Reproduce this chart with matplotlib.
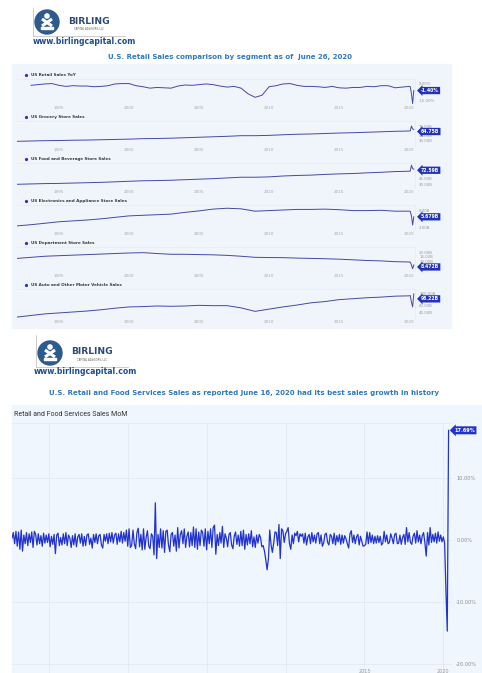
import numpy as np
import matplotlib
matplotlib.use('Agg')
import matplotlib.pyplot as plt
from matplotlib.patches import Rectangle, Circle
from matplotlib.transforms import blended_transform_factory

W, H = 482, 673

# ---------------- data ----------------
years = list(range(1992, 2020))
months_2020 = [2020.0, 2020.083, 2020.167, 2020.25, 2020.333]

# US Retail Sales YoY, semi-annual 1993-2019 (%)
yoy_dates = [1993 + i * 0.5 for i in range(54)]
yoy_pct = [6.0, 7.0, 8.0, 8.5, 6.0, 4.5, 5.5, 5.0, 5.0, 4.0,
           4.5, 5.5, 8.0, 8.5, 8.5, 5.5, 4.0, 2.0, 3.0, 2.5,
           2.0, 5.0, 6.5, 6.0, 7.0, 8.0, 7.0, 5.0, 3.5, 4.5,
           2.0, -6.0, -11.0, -8.0, 4.0, 5.5, 8.0, 8.5, 6.0, 4.5,
           4.5, 4.0, 3.0, 4.5, 2.5, 2.0, 3.0, 3.0, 4.5, 4.0,
           5.5, 5.5, 2.5, 3.5]
yoy_2020 = [4.5, 4.0, -6.0, -19.9, -1.4]

# monthly sales, $B (annual level 1992-2019, then Jan-May 2020)
grocery = [27, 28, 29, 29.5, 30.5, 31, 32, 33, 34, 35.5, 36, 37, 38.5, 40,
           41.5, 43, 45, 45, 46, 48, 49.5, 50.5, 52, 53.5, 54.5, 56, 57.5, 59]
grocery_2020 = [60, 60.5, 76, 67, 64.75]

food_bev = [30, 31, 32, 32.5, 33.5, 34.5, 35.5, 37, 38.5, 40, 40.5, 41.5, 43, 44.5,
            46, 48, 50, 50, 51, 53.5, 55, 56, 58, 59.5, 60.5, 62.5, 64, 66]
food_bev_2020 = [67, 67.5, 84, 75, 72.59]

electronics = [2.6, 3.0, 3.5, 4.0, 4.3, 4.6, 5.0, 5.5, 6.0, 6.2, 6.4, 6.6, 7.2, 7.7,
               8.3, 8.6, 8.4, 7.6, 7.8, 8.0, 8.2, 8.2, 8.3, 8.1, 7.8, 7.8, 7.9, 7.6]
electronics_2020 = [7.6, 7.5, 6.0, 2.9, 5.679]

department = [14.5, 15.5, 16.5, 17, 17.5, 18, 18.5, 19, 19.5, 19.8, 19.0, 18.3, 18.3, 18.0,
              17.8, 17.3, 16.5, 15.5, 15.3, 15.2, 14.8, 14.5, 14.2, 13.8, 13.2, 12.6, 12.2, 11.5]
department_2020 = [11.2, 11.0, 8.5, 5.0, 8.472]

auto = [25, 30, 35, 38, 41, 44, 48, 53, 57, 58, 60, 59, 60, 62,
        61, 61, 54, 43, 50, 57, 63, 70, 74, 80, 83, 86, 88, 91]
auto_2020 = [92, 93, 72, 57, 98.22]

# Retail and Food Services Sales MoM (%), monthly from Sep 1992 to May 2020
mom_start = 1992 + 8 / 12
mom_pct = [
    0.3, 1.2, -0.6, 1.4,                                              # 1992
    -1.0, 1.3, -1.5, 1.6, -1.8, 0.8, -0.6, 1.2, -0.9, 1.0, -0.4, 1.3,  # 1993
    -1.2, 1.4, 0.9, -0.8, 1.0, -0.6, 0.7, -1.0, 1.1, -0.5, 0.8, -0.4,  # 1994
    1.0, -1.1, 0.6, -0.7, 0.9, -2.2, 0.8, 1.1, -0.9, 0.4, -0.8, 1.0,   # 1995
    -0.6, 1.2, -0.9, 0.8, 0.3, -1.2, 0.7, -0.8, 1.0, -1.1, 0.5, 0.9,   # 1996
    -0.5, 1.0, -1.0, 0.6, -0.9, 0.8, 1.0, -0.7, 0.3, -1.3, 0.9, -0.4,  # 1997
    1.0, -0.6, 0.7, 0.9, -0.8, -1.3, 0.9, -0.2, 1.0, -0.6, 1.1, -0.3,  # 1998
    1.2, -0.5, 0.8, 1.1, -0.7, 1.0, -0.3, 1.4, -0.5, 1.2, -0.2, 1.6,   # 1999
    -1.0, 1.8, -1.2, -0.9, 1.6, -0.6, -1.4, 1.2, 1.9, -1.1, 0.9, -1.6, # 2000
    1.8, -1.5, 0.4, 1.5, -1.0, -1.4, 1.0, 0.6, -2.4, 6.0, -3.0, 0.9,   # 2001
    -1.2, 1.8, -1.3, 1.5, -2.0, 1.4, 1.6, -0.8, -1.9, 0.9, 1.2, -1.0,  # 2002
    0.8, -1.8, 2.0, -1.3, 0.9, 1.5, -0.6, 1.8, -1.2, 0.6, 1.3, -1.1,   # 2003
    1.2, -0.9, 2.1, -1.2, 1.8, -1.5, 1.3, -0.9, 1.6, 1.2, -1.0, 1.8,   # 2004
    -1.6, 1.4, -0.6, 1.8, -1.2, 2.0, 2.4, -2.3, 0.9, -0.9, 1.2, -0.5,  # 2005
    2.2, -1.2, 1.0, 0.3, -1.1, 0.9, 1.2, -0.8, -1.4, 0.6, 1.3, -0.7,   # 2006
    0.8, -1.0, 1.4, -0.9, 1.6, -1.5, 0.9, -0.8, 1.0, -0.6, 1.5, -1.1,  # 2007
    0.5, -1.2, 0.8, -0.5, 0.9, 0.4, -1.1, -0.9, -1.8, -3.2, -4.8, -3.0,  # 2008
    1.6, -0.8, -2.0, -0.5, 1.3, 1.2, -0.9, 2.5, -3.0, 1.8, 1.5, -0.4,  # 2009
    1.0, 1.4, 2.0, -0.6, -1.5, 0.8, -0.6, 1.1, 0.7, 1.4, -0.3, 1.0,    # 2010
    0.6, 1.0, -0.5, 1.1, -0.8, 0.5, 0.9, -0.6, 1.2, -0.3, 0.8, -0.5,   # 2011
    1.0, 1.2, -0.6, 0.8, -1.0, -0.5, 0.9, 1.1, -0.4, -0.8, 0.9, 0.6,   # 2012
    -0.6, 1.1, -0.8, 0.7, -0.3, 0.9, -0.7, 0.8, -0.5, 0.7, 0.2, -0.6,  # 2013
    -1.3, 1.0, 1.5, -0.4, 0.8, -0.6, 0.5, 0.9, -0.8, 0.6, -0.2, -1.0,  # 2014
    -0.9, -0.7, 1.3, -0.6, 1.2, -0.4, 0.8, -0.6, 0.6, -0.5, 0.7, -0.4, # 2015
    0.6, -0.8, -0.5, 1.4, -0.3, 0.8, -0.6, -0.4, 1.0, 0.3, -0.6, 0.9,  # 2016
    1.1, -0.6, -0.5, 0.8, -0.7, 0.4, 0.9, -0.7, 2.0, -0.3, 1.2, -0.4,  # 2017
    -0.7, 0.6, 1.1, -0.5, 1.5, -0.3, 0.8, -0.6, 0.7, 1.2, -0.5, -2.6,  # 2018
    1.2, -0.8, 2.0, -0.4, 0.9, -0.3, 1.1, -0.5, 1.3, -0.2, 0.8, -0.3,  # 2019
    0.5, -0.5, -8.3, -14.7, 17.69,                                     # 2020
]

year_ticks = [1995, 2000, 2005, 2010, 2015, 2020]

# ---------------- figure ----------------
fig = plt.figure(figsize=(W / 100, H / 100), dpi=100)
fig.patch.set_facecolor('white')

ax0 = fig.add_axes([0, 0, 1, 1])
ax0.set_xlim(0, W)
ax0.set_ylim(H, 0)
ax0.axis('off')


def px_axes(x0, y0, x1, y1):
    return fig.add_axes([x0 / W, 1 - y1 / H, (x1 - x0) / W, (y1 - y0) / H])


def logo(cx, cy, top):
    # frame lines
    ax0.plot([cx - 14, cx - 14], [top, cy + 14], color='#b8b8b8', lw=0.5)
    ax0.plot([cx - 14, cx + 78], [cy + 14, cy + 14], color='#b8b8b8', lw=0.5)
    ax0.add_patch(Circle((cx, cy), 12, color='#2d5b8e'))
    ax0.add_patch(Circle((cx, cy - 6), 2.1, color='white'))
    ax0.plot([cx - 5, cx + 5], [cy - 3, cy + 4], color='white', lw=2.2, solid_capstyle='butt')
    ax0.plot([cx + 5, cx - 5], [cy - 3, cy + 4], color='white', lw=2.2, solid_capstyle='butt')
    ax0.add_patch(Rectangle((cx - 6, cy + 5), 12, 2.2, color='white'))
    ax0.text(cx + 21, cy - 1, 'BIRLING', fontsize=6.6, fontweight='bold',
             color='#2b4a78', va='center', ha='left')
    ax0.text(cx + 42, cy + 7, 'CAPITAL ADVISORS, LLC', fontsize=1.8,
             color='#555', va='center', ha='center')


# ---------- top block ----------
logo(47, 22, 8)
ax0.text(33, 42, 'www.birlingcapital.com', fontsize=5.6, fontweight='bold',
         color='#1f4e8c', va='center', ha='left')
ax0.text(230, 57, 'U.S. Retail Sales comparison by segment as of  June 26, 2020',
         fontsize=5.0, fontweight='bold', color='#2f78c0', va='center', ha='center')
ax0.add_patch(Rectangle((12, 64), 439, 264, color='#f0f5fc', zorder=0))


def mini_panel(top, bottom, title, x, y, ylim, ticks, tick_labels, badge, badge_dy=0):
    ax0.plot(26, top - 4, 'o', ms=1.3, color='#2a35b8')
    ax0.text(31, top - 4, title, fontsize=3.0, fontweight='bold',
             color='#3a3a3a', va='center', ha='left')
    ax = px_axes(17, top, 415, bottom)
    ax.set_facecolor('none')
    ax.plot(x, y, color='#4149a6', lw=0.7)
    ax.set_xlim(1992, 2020.42)
    ax.set_ylim(*ylim)
    ax.set_xticks(year_ticks)
    ax.tick_params(axis='x', length=0, labelsize=3, labelcolor='#a8a8a8', pad=1.5)
    ax.yaxis.tick_right()
    ax.set_yticks(ticks)
    ax.set_yticklabels(tick_labels)
    ax.tick_params(axis='y', length=0, labelsize=2.8, labelcolor='#9a9a9a', pad=3)
    for s in ['left', 'bottom']:
        ax.spines[s].set_visible(False)
    for s in ['top', 'right']:
        ax.spines[s].set_color('#e2e8f2')
        ax.spines[s].set_linewidth(0.4)
    tr = blended_transform_factory(ax.transAxes, ax.transData)
    ax.annotate(badge, xy=(1.015, y[-1]), xycoords=tr,
                xytext=(0, -badge_dy), textcoords='offset pixels',
                fontsize=3.3, fontweight='bold', color='white',
                va='center', ha='left', zorder=5,
                bbox=dict(boxstyle='larrow,pad=0.25', fc='#2333b5', ec='none'))
    return ax


mini_panel(79, 104, 'US Retail Sales YoY', yoy_dates + months_2020, yoy_pct + yoy_2020,
           (-20.5, 15), [8, -16], ['8.00%', '-16.00%'], '-1.40%')
mini_panel(121, 146, 'US Grocery Store Sales', years + months_2020, grocery + grocery_2020,
           (12, 92), [75, 45, 30], ['75.00B', '45.00B', '30.00B'], '64.75B', badge_dy=2)
mini_panel(163, 188, 'US Food and Beverage Store Sales', years + months_2020, food_bev + food_bev_2020,
           (19.5, 90.3), [75, 45, 30], ['75.00B', '45.00B', '30.00B'], '72.59B', badge_dy=1)
mini_panel(205, 230, 'US Electronics and Appliance Store Sales', years + months_2020,
           electronics + electronics_2020, (1.2, 9.7), [8, 2], ['8.00B', '2.00B'], '5.679B')
mini_panel(247, 272, 'US Department Store Sales', years + months_2020, department + department_2020,
           (2, 25), [20, 16, 12], ['20.00B', '16.00B', '12.00B'], '8.472B', badge_dy=2)
mini_panel(289, 318, 'US Auto and Other Motor Vehicle Sales', years + months_2020, auto + auto_2020,
           (22, 113.6), [100, 60, 40], ['100.00B', '60.00B', '40.00B'], '98.22B', badge_dy=5)

# ---------- bottom block ----------
logo(50, 353, 335)
ax0.text(34, 372, 'www.birlingcapital.com', fontsize=5.6, fontweight='bold',
         color='#1f4e8c', va='center', ha='left')
ax0.text(244, 393, 'U.S. Retail and Food Services Sales as reported June 16, 2020 had its best sales growth in history',
         fontsize=5.0, fontweight='bold', color='#2f78c0', va='center', ha='center')
ax0.add_patch(Rectangle((12, 405), 470, 268, color='#f0f6fe', zorder=0))
ax0.text(14, 415, 'Retail and Food Services Sales MoM', fontsize=5.0,
         family='Roboto', color='#333333', va='center', ha='left')

mom_x = mom_start + np.arange(len(mom_pct)) / 12
axm = px_axes(12, 423, 452, 673)
axm.set_facecolor('none')
axm.plot(mom_x, mom_pct, color='#2233cc', lw=0.9)
axm.set_xlim(mom_start, 2020.55)
axm.set_ylim(-21.45, 18.87)
axm.set_xticks(year_ticks)
axm.set_xticklabels(['', '', '', '', '2015', '2020'])
axm.tick_params(axis='x', length=0, labelsize=3.5, labelcolor='#999', pad=-3)
axm.yaxis.tick_right()
axm.set_yticks([10, 0, -10, -20])
axm.set_yticklabels(['10.00%', '0.00%', '-10.00%', '-20.00%'])
axm.tick_params(axis='y', length=0, labelsize=3.6, labelcolor='#8a8a8a', pad=3)
axm.grid(color='#e0e7f1', lw=0.5)
axm.set_axisbelow(True)
for s in ['left', 'bottom', 'right']:
    axm.spines[s].set_visible(False)
axm.spines['top'].set_color('#e0e7f1')
axm.spines['top'].set_linewidth(0.5)
trm = blended_transform_factory(axm.transAxes, axm.transData)
axm.text(1.005, mom_pct[-1], '17.69%', transform=trm, fontsize=3.6, fontweight='bold',
         color='white', va='center', ha='left', zorder=5,
         bbox=dict(boxstyle='larrow,pad=0.3', fc='#2233cc', ec='none'))

fig.savefig('out.png', dpi=100)
